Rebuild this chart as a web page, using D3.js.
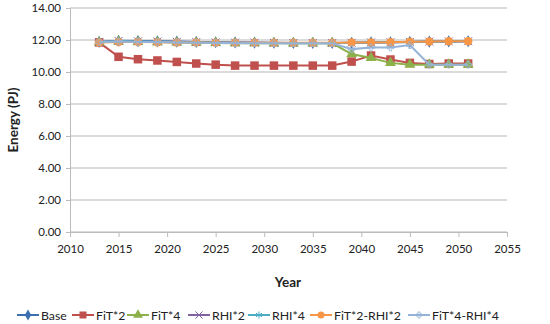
<!DOCTYPE html>
<html>
<head>
<meta charset="utf-8">
<script src="https://cdn.jsdelivr.net/npm/d3@7"></script>
<style>
  body { margin: 0; background: #fff; }
  text { font-family: Lato, "Open Sans", sans-serif; fill: #222; }
</style>
</head>
<body>
<div id="viz"></div>
<script>
// data
const years = [2013, 2015, 2017, 2019, 2021, 2023, 2025, 2027, 2029, 2031,
  2033, 2035, 2037, 2039, 2041, 2043, 2045, 2047, 2049, 2051];
const base = [11.88, 11.95, 11.93, 11.92, 11.9, 11.88, 11.86, 11.85, 11.84, 11.83,
  11.82, 11.82, 11.82, 11.83, 11.85, 11.86, 11.88, 11.9, 11.91, 11.92];
const fit2 = [11.85, 10.95, 10.8, 10.72, 10.63, 10.53, 10.46, 10.4, 10.4, 10.4,
  10.4, 10.4, 10.4, 10.65, 11.03, 10.78, 10.57, 10.5, 10.53, 10.53];
const fit4 = [11.85, 11.9, 11.88, 11.87, 11.85, 11.83, 11.82, 11.8, 11.8, 11.79,
  11.79, 11.79, 11.79, 11.12, 10.88, 10.57, 10.46, 10.46, 10.46, 10.46];
const rhi2 = [11.88, 11.94, 11.92, 11.91, 11.89, 11.87, 11.85, 11.84, 11.83, 11.82,
  11.81, 11.81, 11.81, 11.83, 11.85, 11.86, 11.88, 11.9, 11.91, 11.92];
const rhi4 = [11.88, 11.93, 11.91, 11.9, 11.88, 11.86, 11.84, 11.83, 11.82, 11.81,
  11.8, 11.8, 11.8, 11.83, 11.85, 11.86, 11.88, 11.9, 11.91, 11.92];
const fit2rhi2 = [11.85, 11.88, 11.87, 11.86, 11.85, 11.84, 11.83, 11.83, 11.83, 11.83,
  11.83, 11.83, 11.83, 11.84, 11.85, 11.86, 11.89, 11.9, 11.92, 11.92];
const fit4rhi4 = [11.86, 11.9, 11.88, 11.87, 11.85, 11.83, 11.82, 11.81, 11.8, 11.8,
  11.8, 11.8, 11.8, 11.43, 11.53, 11.53, 11.68, 10.46, 10.46, 10.46];
const xTicks = [2010, 2015, 2020, 2025, 2030, 2035, 2040, 2045, 2050, 2055];
const yTicks = [0, 2, 4, 6, 8, 10, 12, 14];

const seriesNames = ["Base", "FiT*2", "FiT*4", "RHI*2", "RHI*4", "FiT*2-RHI*2", "FiT*4-RHI*4"];
const seriesValues = [base, fit2, fit4, rhi2, rhi4, fit2rhi2, fit4rhi4];
const seriesColors = ["#3a6fb0", "#c0504d", "#8cb04a", "#8064a2", "#4bacc6", "#f79646", "#95b3d7"];
const seriesMarkers = ["diamond", "square", "triangle", "cross", "star", "circle", "plus"];

const svg = d3.select("#viz").append("svg")
  .attr("width", 550)
  .attr("height", 324);

const x = d3.scaleLinear().domain([2010, 2055]).range([70, 507]);
const y = d3.scaleLinear().domain([0, 14]).range([232, 8]);

//gridlines
svg.append("g")
  .selectAll("line")
  .data(yTicks)
  .join("line")
  .attr("x1", x(2010)).attr("x2", x(2055))
  .attr("y1", d => y(d)).attr("y2", d => y(d))
  .style("stroke", "#cfcfcf").style("stroke-width", 1.3);

//y axis
const yAxis = svg.append("g")
  .attr("transform", `translate(${x(2010)},0)`)
  .call(d3.axisLeft(y).tickValues(yTicks).tickFormat(d3.format(".2f")).tickSize(4));
yAxis.select(".domain").style("stroke", "#bbb");
yAxis.selectAll(".tick line").style("stroke", "#bbb");
yAxis.selectAll("text").style("font-size", "11.5px").attr("dx", "-2");

//x axis
const xAxis = svg.append("g")
  .attr("transform", `translate(0,${y(0)})`)
  .call(d3.axisBottom(x).tickValues(xTicks).tickFormat(d3.format("d")).tickSize(5));
xAxis.select(".domain").style("stroke", "#bbb");
xAxis.selectAll(".tick line").style("stroke", "#bbb");
xAxis.selectAll("text").style("font-size", "11.5px").attr("dy", "1.1em");

//axis titles
svg.append("text")
  .attr("x", 288).attr("y", 287)
  .attr("text-anchor", "middle")
  .style("font-size", "13.5px").style("font-weight", "bold")
  .text("Year");

svg.append("text")
  .attr("transform", "translate(18,120) rotate(-90)")
  .attr("text-anchor", "middle")
  .style("font-size", "13.5px").style("font-weight", "bold")
  .text("Energy (PJ)");

function drawMarker(g, type, color, cx, cy, s) {
  if (type === "diamond") {
    g.append("path").attr("d", d3.symbol(d3.symbolDiamond, s * 5)())
      .attr("transform", `translate(${cx},${cy})`).attr("fill", color);
  } else if (type === "square") {
    g.append("rect").attr("x", cx - s / 2).attr("y", cy - s / 2)
      .attr("width", s).attr("height", s).attr("fill", color);
  } else if (type === "triangle") {
    g.append("path").attr("d", d3.symbol(d3.symbolTriangle, s * 6)())
      .attr("transform", `translate(${cx},${cy})`).attr("fill", color);
  } else if (type === "cross") {
    g.append("path").attr("d", d3.symbol(d3.symbolX, s * 5)())
      .attr("transform", `translate(${cx},${cy})`)
      .attr("fill", "none").attr("stroke", color).attr("stroke-width", 1);
  } else if (type === "star") {
    g.append("path").attr("d", d3.symbol(d3.symbolAsterisk, s * 5)())
      .attr("transform", `translate(${cx},${cy})`)
      .attr("fill", "none").attr("stroke", color).attr("stroke-width", 1);
  } else if (type === "circle") {
    g.append("circle").attr("cx", cx).attr("cy", cy).attr("r", s / 2).attr("fill", color);
  } else if (type === "plus") {
    g.append("path").attr("d", d3.symbol(d3.symbolCross, s * 3)())
      .attr("transform", `translate(${cx},${cy})`)
      .attr("fill", "none").attr("stroke", color).attr("stroke-width", 0.8);
  }
}

const line = d3.line().x((d, i) => x(years[i])).y(d => y(d));

seriesValues.forEach((vals, k) => {
  const g = svg.append("g");
  g.append("path").datum(vals)
    .attr("d", line)
    .attr("fill", "none")
    .attr("stroke", seriesColors[k])
    .attr("stroke-width", 2);
  vals.forEach((v, i) => drawMarker(g, seriesMarkers[k], seriesColors[k], x(years[i]), y(v), 8.5));
});

//legend
const legendX = [17, 72, 127, 188, 248, 310, 408];
seriesNames.forEach((name, k) => {
  const g = svg.append("g");
  const lx = legendX[k];
  g.append("line")
    .attr("x1", lx).attr("x2", lx + 22)
    .attr("y1", 315).attr("y2", 315)
    .attr("stroke", seriesColors[k]).attr("stroke-width", 2);
  drawMarker(g, seriesMarkers[k], seriesColors[k], lx + 11, 315, 7);
  g.append("text")
    .attr("x", lx + 24).attr("y", 319.5)
    .style("font-size", "12.3px")
    .text(name);
});
</script>
</body>
</html>
